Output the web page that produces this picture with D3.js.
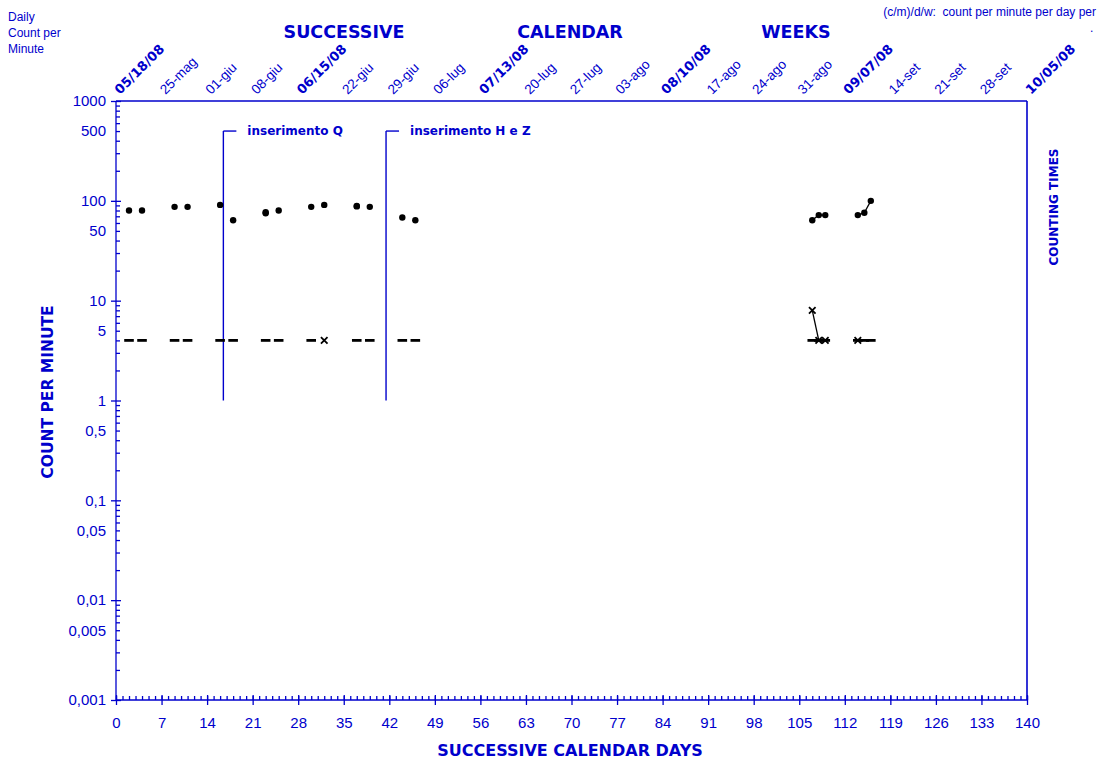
<!DOCTYPE html>
<html>
<head>
<meta charset="utf-8">
<script src="https://cdn.jsdelivr.net/npm/d3@7"></script>
<style>
  body { margin: 0; background: #fff; }
  svg { display: block; }
  text { fill: #0000cc; }
  .bold { font-family: "DejaVu Sans", sans-serif; font-weight: bold; }
  .reg { font-family: "Liberation Sans", Arial, sans-serif; }
</style>
</head>
<body>
<div id="chart"></div>
<script>
// daily count per minute (dots)
const dotDays = [2, 4, 9, 11, 16, 18, 23, 23, 25, 30, 32, 37, 37, 39, 44, 46, 107, 108, 109, 114, 115, 116];
const dotValues = [80, 80, 87, 87, 91, 64, 75, 77, 80, 87, 91, 88, 89, 87, 68, 64, 64, 72, 72, 72, 76, 100];

// background (dash markers)
const dashDays = [2, 4, 9, 11, 16, 18, 23, 25, 30, 37, 39, 44, 46, 107, 108, 109, 114, 115, 116];
const dashValues = [4, 4, 4, 4, 4, 4, 4, 4, 4, 4, 4, 4, 4, 4, 4, 4, 4, 4, 4];

// cross markers
const crossDays = [32, 107, 108, 109, 114];
const crossValues = [4, 8, 4, 4, 4];

// insertion events
const eventDays = [16.5, 41.5];
const eventLabels = ["inserimento Q", "inserimento H e Z"];
const eventTop = 500;
const eventBottom = 1;

const weekLabels = [
  "05/18/08", "25-mag", "01-giu", "08-giu", "06/15/08", "22-giu", "29-giu",
  "06-lug", "07/13/08", "20-lug", "27-lug", "03-ago", "08/10/08", "17-ago",
  "24-ago", "31-ago", "09/07/08", "14-set", "21-set", "28-set", "10/05/08"
];
const xTicks = d3.range(0, 141, 7);
const yTickValues = [1000, 500, 100, 50, 10, 5, 1, 0.5, 0.1, 0.05, 0.01, 0.005, 0.001];
const yTickLabels = ["1000", "500", "100", "50", "10", "5", "1", "0,5", "0,1", "0,05", "0,01", "0,005", "0,001"];

const W = 1102, H = 760;
const blue = "#0000cc";

const svg = d3.select("#chart").append("svg")
  .attr("width", W)
  .attr("height", H);

const x = d3.scaleLinear().domain([0, 140]).range([116, 1027]);
const y = d3.scaleLog().domain([0.001, 1000]).range([700, 101]);

// frame (top + right)
svg.append("line")
  .attr("x1", x(0)).attr("x2", x(140)).attr("y1", y(1000)).attr("y2", y(1000))
  .attr("stroke", blue).attr("stroke-width", 1.6);
svg.append("line")
  .attr("x1", x(140)).attr("x2", x(140)).attr("y1", y(1000)).attr("y2", y(0.001))
  .attr("stroke", blue).attr("stroke-width", 1.6);

// bottom axis: minor every day, major every week
const bottom = svg.append("g").attr("transform", `translate(0,${y(0.001)})`);
bottom.append("g")
  .call(d3.axisBottom(x).tickValues(d3.range(0, 141, 1)).tickSize(-4).tickFormat(""))
  .call((g) => g.select(".domain").remove());
bottom.append("g")
  .call(d3.axisBottom(x).tickValues(xTicks).tickSize(5).tickFormat(""))
  .call((g) => g.select(".domain").remove());
bottom.append("g")
  .call(d3.axisBottom(x).tickValues(xTicks).tickSize(-5).tickFormat((d) => d))
  .call((g) => g.select(".domain").remove());
bottom.append("line")
  .attr("x1", x(0)).attr("x2", x(140))
  .attr("stroke", blue).attr("stroke-width", 1.6);
bottom.selectAll("line").attr("stroke", blue).attr("stroke-width", 1.3);
bottom.selectAll("text")
  .attr("class", "reg")
  .attr("font-size", 15)
  .attr("fill", blue)
  .attr("dy", "0.71em")
  .attr("y", 17);

// left axis: minor ticks 2..9 per decade, major at decades
const minorY = [];
for (let e = -3; e < 3; e++) {
  for (let m = 2; m <= 9; m++) minorY.push(m * Math.pow(10, e));
}
const decades = [0.001, 0.01, 0.1, 1, 10, 100, 1000];
const left = svg.append("g").attr("transform", `translate(${x(0)},0)`);
left.append("g")
  .call(d3.axisLeft(y).tickValues(minorY).tickSize(-4).tickFormat(""))
  .call((g) => g.select(".domain").remove());
left.append("g")
  .call(d3.axisLeft(y).tickValues(decades).tickSize(5).tickFormat(""))
  .call((g) => g.select(".domain").remove());
left.append("g")
  .call(d3.axisLeft(y).tickValues(decades).tickSize(-5).tickFormat(""))
  .call((g) => g.select(".domain").remove());
left.append("g")
  .call(d3.axisLeft(y).tickValues(yTickValues).tickSize(0)
    .tickFormat((d, i) => yTickLabels[i]))
  .call((g) => g.select(".domain").remove());
left.append("line")
  .attr("y1", y(1000)).attr("y2", y(0.001))
  .attr("stroke", blue).attr("stroke-width", 1.6);
left.selectAll("line").attr("stroke", blue).attr("stroke-width", 1.3);
left.selectAll("text")
  .attr("class", "reg")
  .attr("font-size", 15)
  .attr("fill", blue)
  .attr("x", -10);

// top week labels
svg.append("g")
  .selectAll("text")
  .data(weekLabels)
  .join("text")
  .attr("class", (d, i) => (i % 4 === 0 ? "bold" : "reg"))
  .attr("font-size", (d, i) => (i % 4 === 0 ? 13 : 13.5))
  .attr("transform", (d, i) => `translate(${x(xTicks[i]) + 4},95) rotate(-45)`)
  .text((d) => d);

// insertion lines
const ev = svg.append("g");
eventDays.forEach((d, i) => {
  ev.append("line")
    .attr("x1", x(d)).attr("x2", x(d))
    .attr("y1", y(eventBottom)).attr("y2", y(eventTop))
    .attr("stroke", blue).attr("stroke-width", 1.4);
  ev.append("line")
    .attr("x1", x(d)).attr("x2", x(d) + 13)
    .attr("y1", y(eventTop)).attr("y2", y(eventTop))
    .attr("stroke", blue).attr("stroke-width", 1.4);
  ev.append("text")
    .attr("class", "bold")
    .attr("font-size", 12)
    .attr("x", x(d) + 24)
    .attr("y", y(eventTop) + 4)
    .text(eventLabels[i]);
});

// connect consecutive days
const segments = (days, values) => {
  const segs = [];
  for (let i = 1; i < days.length; i++) {
    if (days[i] - days[i - 1] === 1) {
      segs.push([[days[i - 1], values[i - 1]], [days[i], values[i]]]);
    }
  }
  return segs;
};
const line = d3.line().x((d) => x(d[0])).y((d) => y(d[1]));

const plot = svg.append("g");

plot.selectAll("path.dashline")
  .data(segments(dashDays, dashValues))
  .join("path")
  .attr("class", "dashline")
  .attr("d", line)
  .attr("stroke", "#000").attr("stroke-width", 1.3).attr("fill", "none");

plot.selectAll("path.crossline")
  .data(segments(crossDays, crossValues))
  .join("path")
  .attr("class", "crossline")
  .attr("d", line)
  .attr("stroke", "#000").attr("stroke-width", 1.3).attr("fill", "none");

plot.selectAll("path.dotline")
  .data(segments(dotDays, dotValues))
  .join("path")
  .attr("class", "dotline")
  .attr("d", line)
  .attr("stroke", "#000").attr("stroke-width", 1.3).attr("fill", "none");

// dash markers
plot.selectAll("line.dash")
  .data(dashDays)
  .join("line")
  .attr("class", "dash")
  .attr("x1", (d) => x(d) - 4.8)
  .attr("x2", (d) => x(d) + 4.8)
  .attr("y1", (d, i) => y(dashValues[i]))
  .attr("y2", (d, i) => y(dashValues[i]))
  .attr("stroke", "#000").attr("stroke-width", 2.8);

// cross markers
const cross = d3.symbol().type(d3.symbolX).size(30);
plot.selectAll("path.cross")
  .data(crossDays)
  .join("path")
  .attr("class", "cross")
  .attr("d", cross)
  .attr("transform", (d, i) => `translate(${x(d)},${y(crossValues[i])})`)
  .attr("stroke", "#000").attr("stroke-width", 1.8).attr("fill", "none");

// dots
plot.selectAll("circle.dot")
  .data(dotDays)
  .join("circle")
  .attr("class", "dot")
  .attr("cx", (d) => x(d))
  .attr("cy", (d, i) => y(dotValues[i]))
  .attr("r", 3.2)
  .attr("fill", "#000");

// titles and labels
const titles = ["SUCCESSIVE", "CALENDAR", "WEEKS"];
const titleX = [344, 570, 796];
svg.selectAll("text.title")
  .data(titles)
  .join("text")
  .attr("class", "title bold")
  .attr("font-size", 17.5)
  .attr("text-anchor", "middle")
  .attr("x", (d, i) => titleX[i])
  .attr("y", 38)
  .text((d) => d);

["Daily", "Count per", "Minute"].forEach((t, i) => {
  svg.append("text")
    .attr("class", "reg")
    .attr("font-size", 12)
    .attr("x", 8)
    .attr("y", 21 + i * 16)
    .text(t);
});

svg.append("text")
  .attr("class", "reg")
  .attr("font-size", 12)
  .attr("text-anchor", "end")
  .attr("x", 1096)
  .attr("y", 16)
  .style("white-space", "pre")
  .text("(c/m)/d/w:  count per minute per day per");
svg.append("text")
  .attr("class", "reg")
  .attr("font-size", 12)
  .attr("x", 1090)
  .attr("y", 32)
  .text(".");

svg.append("text")
  .attr("class", "bold")
  .attr("font-size", 15.5)
  .attr("text-anchor", "middle")
  .attr("transform", "translate(53,392) rotate(-90)")
  .text("COUNT PER MINUTE");

svg.append("text")
  .attr("class", "bold")
  .attr("font-size", 12)
  .attr("text-anchor", "middle")
  .attr("transform", "translate(1058,207) rotate(-90)")
  .text("COUNTING TIMES");

svg.append("text")
  .attr("class", "bold")
  .attr("font-size", 16)
  .attr("text-anchor", "middle")
  .attr("x", 570)
  .attr("y", 756)
  .text("SUCCESSIVE CALENDAR DAYS");
</script>
</body>
</html>
